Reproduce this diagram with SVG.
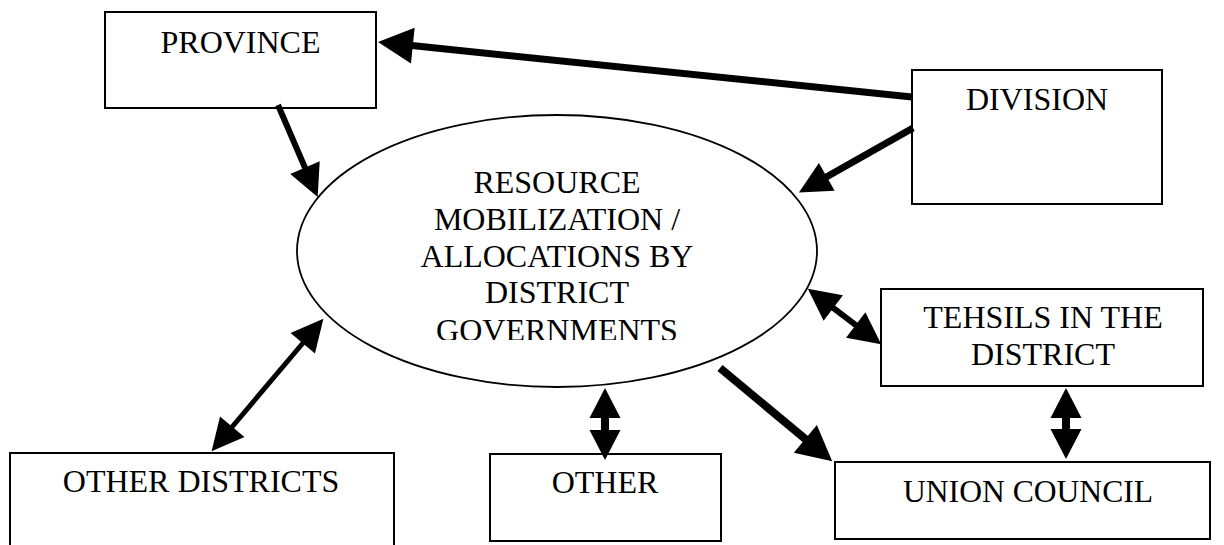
<svg xmlns="http://www.w3.org/2000/svg" width="1224" height="545" viewBox="0 0 1224 545">
<style>
.box{fill:#fff;stroke:#000;stroke-width:2}
.ell{fill:#fff;stroke:#000;stroke-width:1.8}
.t{font-family:"Liberation Serif","Times New Roman",serif;font-size:32px;text-anchor:middle;fill:#000}
.c{stroke:#000;fill:none}
</style>
<defs>
<marker id="ah" markerUnits="userSpaceOnUse" markerWidth="32" markerHeight="32" viewBox="0 -16 32 32" refX="1" refY="0" orient="auto-start-reverse" overflow="visible"><path d="M0,-16 L32,0 L0,16 Z" fill="#000"/></marker>
<marker id="ahs" markerUnits="userSpaceOnUse" markerWidth="30" markerHeight="31" viewBox="0 -15.5 30 31" refX="1" refY="0" orient="auto-start-reverse" overflow="visible"><path d="M0,-15.5 L30,0 L0,15.5 Z" fill="#000"/></marker>
<marker id="ahb" markerUnits="userSpaceOnUse" markerWidth="35" markerHeight="36" viewBox="0 -18 35 36" refX="1" refY="0" orient="auto-start-reverse" overflow="visible"><path d="M0,-18 L35,0 L0,18 Z" fill="#000"/></marker>
<clipPath id="clipGov"><rect x="0" y="0" width="1224" height="340"/></clipPath>
</defs>
<rect width="1224" height="545" fill="#fff"/>
<g id="province"><rect class="box" x="105" y="12" width="271" height="96"/><text class="t" x="240.5" y="53">PROVINCE</text></g>
<g id="division"><rect class="box" x="912" y="70" width="250" height="134"/><text class="t" x="1037" y="110">DIVISION</text></g>
<g id="resource"><ellipse class="ell" cx="557" cy="251" rx="260" ry="136"/>
<text class="t" x="557" y="193">RESOURCE</text>
<text class="t" x="557" y="230">MOBILIZATION /</text>
<text class="t" x="557" y="267">ALLOCATIONS BY</text>
<text class="t" x="557" y="303">DISTRICT</text>
<text class="t" x="557" y="341" clip-path="url(#clipGov)">GOVERNMENTS</text></g>
<g id="tehsils"><rect class="box" x="881" y="289" width="322" height="97"/><text class="t" x="1043" y="328">TEHSILS IN THE</text><text class="t" x="1043" y="365">DISTRICT</text></g>
<g id="other-districts"><rect class="box" x="10" y="453" width="384" height="110"/><text class="t" x="201" y="492">OTHER DISTRICTS</text></g>
<g id="other"><rect class="box" x="490" y="454" width="231" height="87"/><text class="t" x="605" y="493">OTHER</text></g>
<g id="union-council"><rect class="box" x="835" y="462" width="375" height="77"/><text class="t" x="1028" y="502" textLength="250" lengthAdjust="spacingAndGlyphs">UNION COUNCIL</text></g>
<g id="connectors">
<line class="c" x1="912" y1="97" x2="411.8" y2="45.6" stroke-width="7" marker-end="url(#ahb)"/>
<line class="c" x1="278" y1="105" x2="305.4" y2="168.6" stroke-width="6" marker-end="url(#ah)"/>
<line class="c" x1="913" y1="128" x2="825.9" y2="177.3" stroke-width="7" marker-end="url(#ah)"/>
<line class="c" x1="303.4" y1="342.5" x2="231.6" y2="427.5" stroke-width="5" marker-start="url(#ah)" marker-end="url(#ah)"/>
<line class="c" x1="605" y1="417" x2="605" y2="431" stroke-width="8" marker-start="url(#ahs)" marker-end="url(#ahs)"/>
<line class="c" x1="720" y1="368" x2="806.1" y2="439.6" stroke-width="8" marker-end="url(#ahb)"/>
<line class="c" x1="832.5" y1="307.4" x2="856.5" y2="325.6" stroke-width="6" marker-start="url(#ah)" marker-end="url(#ah)"/>
<line class="c" x1="1066" y1="417" x2="1066" y2="430" stroke-width="8" marker-start="url(#ahs)" marker-end="url(#ahs)"/>
</g>
</svg>
